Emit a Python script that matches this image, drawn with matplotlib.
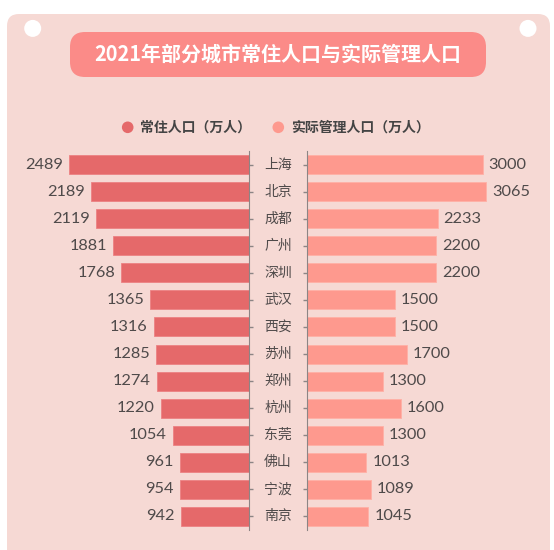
import matplotlib
matplotlib.use("Agg")
import matplotlib.pyplot as plt
from matplotlib.patches import FancyBboxPatch, Circle
from matplotlib.transforms import blended_transform_factory

plt.rcParams['font.family'] = ['Noto Sans CJK SC', 'DejaVu Sans']

cities = ['上海', '北京', '成都', '广州', '深圳', '武汉', '西安',
          '苏州', '郑州', '杭州', '东莞', '佛山', '宁波', '南京']
resident = [2489, 2189, 2119, 1881, 1768, 1365, 1316,
            1285, 1274, 1220, 1054, 961, 954, 942]
managed = [3000, 3065, 2233, 2200, 2200, 1500, 1500,
           1700, 1300, 1600, 1300, 1013, 1089, 1045]

title = '2021年部分城市常住人口与实际管理人口'
legend_labels = ['常住人口（万人）', '实际管理人口（万人）']

c_left = '#E5696A'
c_right = '#FE998E'
c_panel = '#F6D9D4'
c_title = '#FB8B88'
c_text = '#4F4A4A'
c_axis = '#8C8585'

W, H = 554, 550
fig = plt.figure(figsize=(W / 100, H / 100), dpi=100)
fig.patch.set_facecolor('white')

# background in pixel coordinates
bg = fig.add_axes([0, 0, 1, 1], zorder=0)
bg.set_xlim(0, W)
bg.set_ylim(H, 0)
bg.axis('off')
bg.add_patch(FancyBboxPatch((7, 14), 543, 560,
                            boxstyle='round,pad=0,rounding_size=12',
                            fc=c_panel, ec='none'))
for cx in (32.7, 528):
    bg.add_patch(Circle((cx, 28.4), 8.5, fc='white', ec='none'))
bg.add_patch(FancyBboxPatch((70, 32), 416, 45,
                            boxstyle='round,pad=0,rounding_size=15',
                            fc=c_title, ec='none'))
bg.text(278, 54.5, title, color='white', fontsize=14.4, fontweight='bold',
        ha='center', va='center')

# legend
for (cx, tx), lab, col in zip([(127.7, 140), (278.3, 291)], legend_labels,
                              [c_left, c_right]):
    bg.add_patch(Circle((cx, 127.3), 5.8, fc=col, ec='none'))
    bg.text(tx, 127.3, lab, color='#444444', fontsize=10, fontweight='bold',
            ha='left', va='center')

# bar axes
y0, y1 = 151, 530
bottom = (H - y1) / H
height = (y1 - y0) / H
n = len(cities)
ys = list(range(n))

lx0, lx1 = 20, 249
axL = fig.add_axes([lx0 / W, bottom, (lx1 - lx0) / W, height], zorder=1)
axL.set_xlim((lx1 - lx0) / 0.0723, 0)

rx0, rx1 = 307.3, 540
axR = fig.add_axes([rx0 / W, bottom, (rx1 - rx0) / W, height], zorder=1)
axR.set_xlim(0, (rx1 - rx0) / 0.0584)

for ax in (axL, axR):
    ax.set_facecolor('none')
    ax.set_ylim(n - 0.5, -0.5)
    ax.set_xticks([])
    ax.set_yticks(ys)
    ax.set_yticklabels([])
    for s in ax.spines.values():
        s.set_visible(False)

axL.barh(ys, resident, height=0.7, color=c_left, edgecolor='#EC8283', linewidth=0.6)
axR.barh(ys, managed, height=0.7, color=c_right, edgecolor='#FFB0A6', linewidth=0.6)

axL.spines['right'].set_visible(True)
axL.spines['right'].set_color(c_axis)
axL.yaxis.tick_right()
axL.tick_params(axis='y', direction='out', length=3, color=c_axis, width=1)

axR.spines['left'].set_visible(True)
axR.spines['left'].set_color(c_axis)
axR.tick_params(axis='y', direction='out', length=3, color=c_axis, width=1)

num_font = dict(family=['Lato', 'DejaVu Sans'], fontweight='normal',
                fontsize=11.8, color=c_text)
for i, v in enumerate(resident):
    axL.annotate(str(v), (v, i), xytext=(-4.3, 0), textcoords='offset points',
                 ha='right', va='center', **num_font)
for i, v in enumerate(managed):
    axR.annotate(str(v), (v, i), xytext=(4.3, 0), textcoords='offset points',
                 ha='left', va='center', **num_font)

trans = blended_transform_factory(bg.transData, axL.transData)
for i, name in enumerate(cities):
    fig.text(278, i, name, transform=trans, ha='center', va='center',
             fontsize=10, fontweight='light', color=c_text, zorder=3)

fig.savefig('out.png', dpi=100, facecolor=fig.get_facecolor())
